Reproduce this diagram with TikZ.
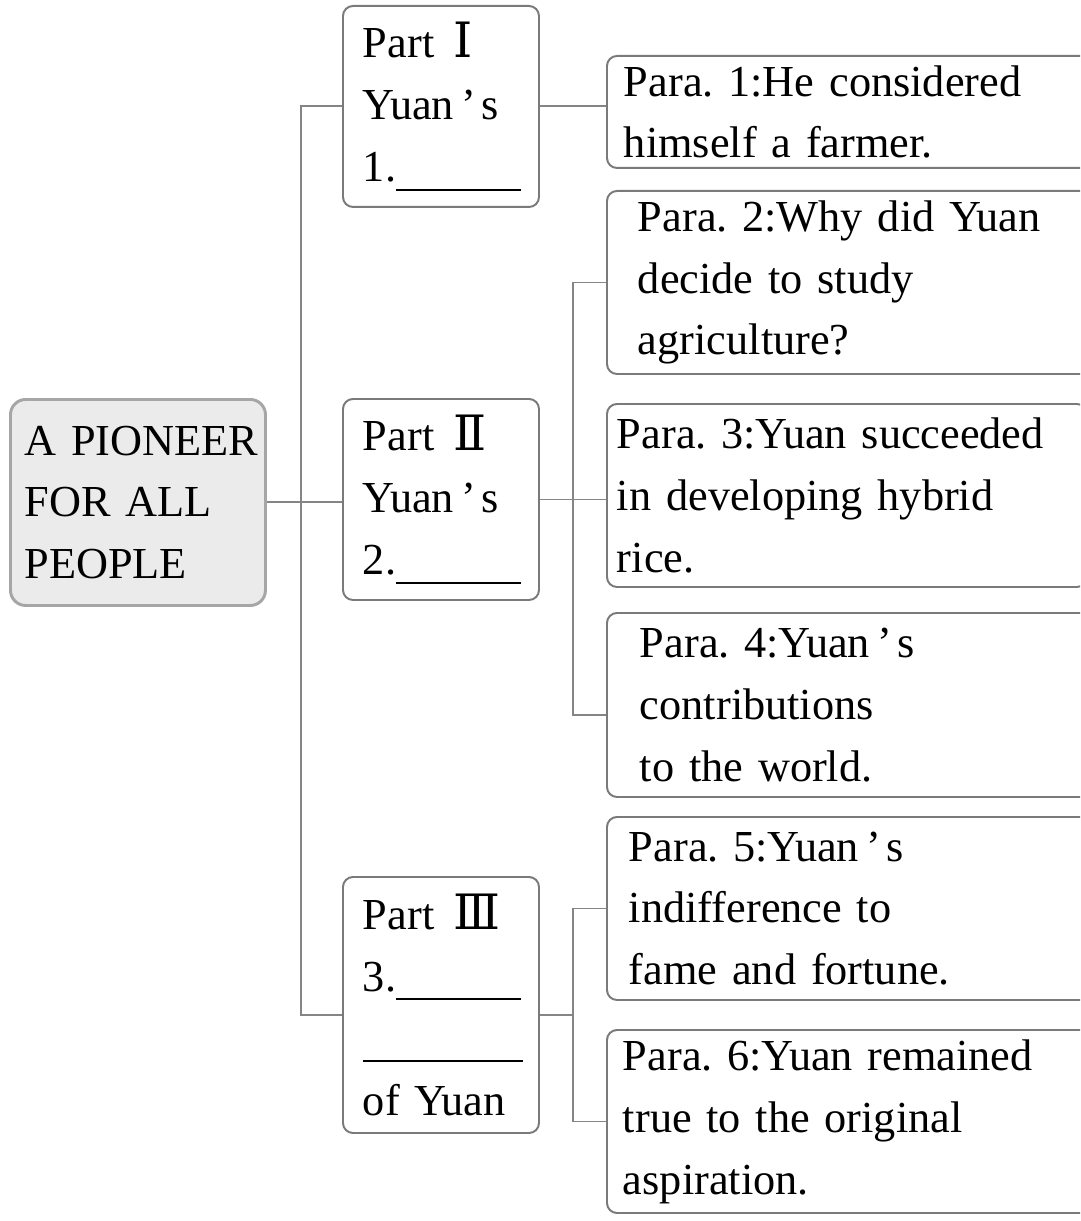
\documentclass[tikz,border=0pt]{standalone}
\usepackage{fontspec}
\setmainfont{Liberation Serif}
\newfontfamily\numfont[Scale=1.1]{DejaVu Serif}
\usepackage{xcolor}
\definecolor{RootBg}{HTML}{EBEBEB}
\definecolor{RootLine}{HTML}{A6A6A6}
\definecolor{BoxLine}{HTML}{7A7A7A}
\definecolor{LinkLine}{HTML}{858585}
\usepackage{tikz}
\usetikzlibrary{positioning}

\newlength\pxu
\setlength\pxu{0.025cm}
\newcommand{\blank}[1]{\rule[-0.2em]{#1\pxu}{0.045em}}
\newcommand{\apos}{\hspace{0.16em}’\hspace{0.12em}}
\newcommand{\partnum}[1]{\hspace{0.1em}{\numfont #1}}
\frenchspacing

\begin{document}
\begin{tikzpicture}[x=0.025cm, y=-0.025cm,
  every node/.style={font=\fontsize{31.5}{44}\selectfont\frenchspacing, align=left, inner ysep=0pt},
  box/.style={draw=BoxLine, line width=1.4pt, rounded corners=0.25cm, anchor=north west},
  rootbox/.style={draw=RootLine, line width=2.1pt, fill=RootBg, rounded corners=0.38cm, anchor=north west,
    inner xsep=14\pxu, text width=227\pxu},
  partbox/.style={box, inner xsep=20\pxu, text width=156\pxu},
  parabox/.style={box, inner xsep=#1\pxu, text width=460\pxu},
  link/.style={draw=LinkLine, line width=1.4pt}]
  \useasboundingbox (0,0) rectangle (1080,1221);
  \clip (0,0) rectangle (1080,1221);

  \node[rootbox, minimum height=206\pxu] (root) at (9,398) {\mbox{A PIONEER}\\FOR ALL\\PEOPLE};

  \node[partbox, minimum height=201\pxu] (partA) at (342,5) {Part \partnum{Ⅰ}\\Yuan\apos s\\1.\blank{125}};
  \node[partbox, minimum height=201\pxu] (partB) at (342,398) {Part \partnum{Ⅱ}\\Yuan\apos s\\2.\blank{125}};
  \node[partbox, minimum height=256\pxu] (partC) at (342,876) {Part \partnum{Ⅲ}\\3.\blank{125}\\\blank{160}\\of Yuan};

  \node[parabox=17, minimum height=112\pxu] (para1) at (606,55) {Para. 1:He considered\\himself a farmer.};
  \node[parabox=31, minimum height=183\pxu] (para2) at (606,190) {Para. 2:Why did Yuan\\decide to study\\agriculture?};
  \node[parabox=10, minimum height=183\pxu] (para3) at (606,403) {Para. 3:Yuan succeeded\\in developing hybrid\\rice.};
  \node[parabox=33, minimum height=184\pxu] (para4) at (606,612) {Para. 4:Yuan\apos s\\contributions\\to the world.};
  \node[parabox=22, minimum height=183\pxu] (para5) at (606,816) {Para. 5:Yuan\apos s\\indifference to\\fame and fortune.};
  \node[parabox=16, minimum height=183\pxu] (para6) at (606,1029) {Para. 6:Yuan remained\\true to the original\\aspiration.};

  % junctions
  \coordinate (jA) at (301,503);
  \coordinate (jB) at (573,503);
  \coordinate (jC) at ([yshift=-10\pxu]partC.east -| jB);

  \draw[link] (root.east) -- (root.east -| partB.west);
  \draw[link] (partA.west) -| (jA) |- ([yshift=-10\pxu]partC.west);
  \draw[link] (partA.east) -- (partA.east -| para1.west);
  \draw[link] (partB.east) -- (partB.east -| para3.west);
  \draw[link] (para2.west) -| (jB) |- ([yshift=-10\pxu]para4.west);
  \draw[link] (jC -| partC.east) -- (jC);
  \draw[link] (para5.west) -| (jC) |- (para6.west);
\end{tikzpicture}
\end{document}
